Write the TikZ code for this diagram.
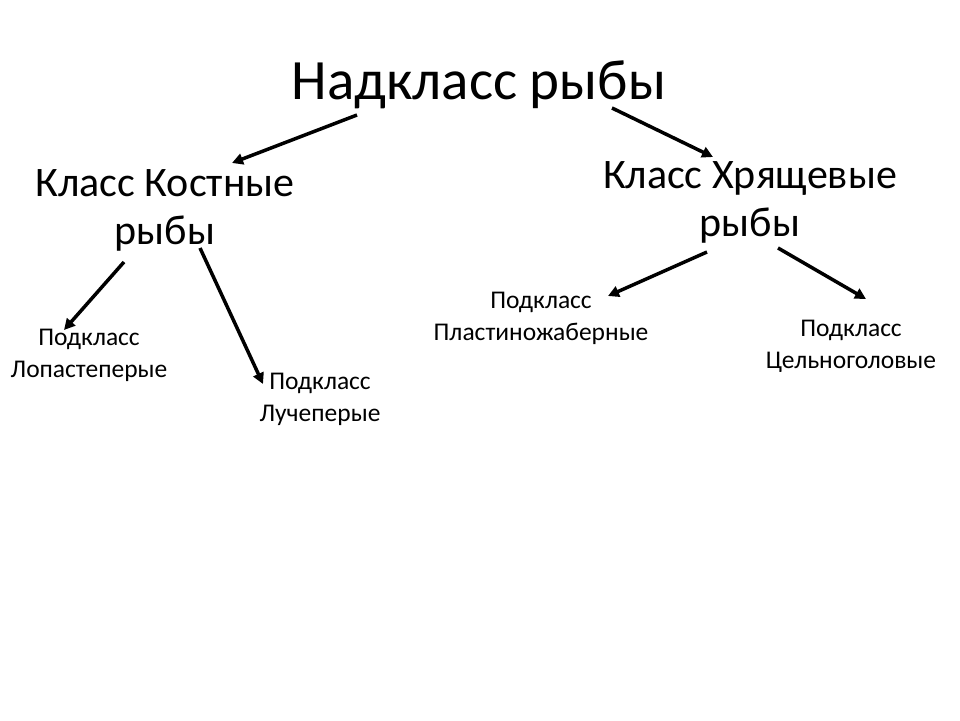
\documentclass[tikz,border=0pt]{standalone}
\usepackage{fontspec}
\setmainfont{Carlito}
\usetikzlibrary{arrows.meta,positioning}

\begin{document}
\begin{tikzpicture}[x=1pt, y=1pt,
  toptext/.style={inner sep=0pt, anchor=base, font=\fontsize{57}{66}\selectfont},
  classtext/.style={inner sep=0pt, anchor=base, align=center, font=\fontsize{42}{48}\selectfont},
  subtext/.style={inner sep=0pt, anchor=base, align=center, font=\fontsize{25.5}{32}\selectfont},
  arr/.style={-{Triangle[length=11pt,width=11pt]}, line width=3.5pt}
]
\useasboundingbox (0,0) rectangle (960,720);
\node[toptext] (nadkl) at (479,620) {Надкласс рыбы};
\node[classtext] (kost) at (165,475) {Класс Костные\\рыбы};
\node[classtext] (hrya) at (750,483) {Класс Хрящевые\\рыбы};
\node[subtext] (lopast) at (89,342) {Подкласс\\Лопастеперые};
\node[subtext] (luch) at (320,298) {Подкласс\\Лучеперые};
\node[subtext] (plast) at (541,379) {Подкласс\\Пластиножаберные};
\node[subtext] (celn) at (851,351) {Подкласс\\Цельноголовые};
\draw[arr] ([shift={(-122,-15)}]nadkl.base) -- ([shift={(67,82)}]kost.base);
\draw[arr] ([shift={(133,-8)}]nadkl.base) -- ([shift={(-37,80)}]hrya.base);
\draw[arr] ([shift={(-41,-17)}]kost.base) -- ([shift={(-25,48)}]lopast.base);
\draw[arr] ([shift={(35,-3)}]kost.base) -- ([shift={(-57,38)}]luch.base);
\draw[arr] ([shift={(-43,-15)}]hrya.base) -- ([shift={(67,45)}]plast.base);
\draw[arr] ([shift={(28,-11)}]hrya.base) -- ([shift={(15,70)}]celn.base);
\end{tikzpicture}
\end{document}
